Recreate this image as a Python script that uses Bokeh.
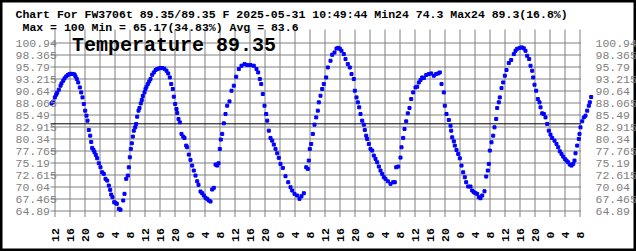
import math
from bokeh.plotting import figure
from bokeh.models import Range1d
from bokeh.core.properties import value
from bokeh.embed import file_html
from bokeh.resources import INLINE

# ---------------- data ----------------
title_line1 = "Chart For FW3706t 89.35/89.35 F 2025-05-31 10:49:44 Min24 74.3 Max24 89.3(16.8%)"
title_line2 = "Max = 100 Min = 65.17(34.83%) Avg = 83.6"
big_title = "Temperature 89.35"
avg_value = 83.6

y_tick_labels = ["64.89", "67.465", "70.04", "72.615", "75.19", "77.765", "80.34", "82.915",
                 "85.49", "88.065", "90.64", "93.215", "95.79", "98.365", "100.94"]

# hours since 2025-05-25 12:00
x_tick_hours = [0, 4, 8, 12, 16, 20, 24, 28, 32, 36, 40, 44, 48, 52, 56, 60, 64, 68,
                72, 76, 80, 84, 88, 92, 96, 100, 104, 108, 112, 116, 120, 124, 128, 132, 136, 140]
x_tick_labels = ["12", "16", "20", "0", "4", "8", "12", "16", "20", "0", "4", "8",
                 "12", "16", "20", "0", "4", "8", "12", "16", "20", "0", "4", "8",
                 "12", "16", "20", "0", "4", "8", "12", "16", "20", "0", "4", "8"]

hours = [
    -0.93, -0.48, -0.05, 0.32, 0.59, 1.01, 1.47, 1.73, 2.19, 2.53, 2.99, 3.41, 3.87, 4.32, 4.75,
    5.20, 5.47, 5.81, 6.19, 6.61, 6.99, 7.33, 7.68, 8.05, 8.40, 8.67, 9.01, 9.39, 9.65, 9.92,
    10.27, 10.53, 10.88, 11.25, 11.68, 12.13, 12.59, 13.01, 13.47, 13.92, 14.35, 14.72, 14.99,
    15.33, 15.79, 16.13, 16.48, 17.01, 17.47, 18.19, 18.53, 18.99, 19.42, 19.68, 19.95, 20.21,
    20.48, 20.75, 21.01, 21.39, 21.65, 21.92, 22.27, 22.53, 22.88, 23.15, 23.41, 23.87, 24.13,
    24.40, 24.75, 25.12, 25.47, 25.92, 26.35, 26.80, 27.25, 27.68, 28.13, 28.67, 29.20, 29.73,
    30.19, 30.61, 30.99, 31.41, 31.68, 32.05, 32.40, 32.59, 32.93, 33.28, 33.73, 34.19, 34.53,
    34.99, 35.25, 35.68, 36.13, 36.59, 37.01, 37.47, 37.92, 38.27, 38.80, 39.25, 39.68, 40.13,
    40.59, 41.01, 41.47, 41.92, 42.35, 42.80, 43.25, 43.60, 43.95, 44.21, 44.59, 45.01, 45.47,
    45.92, 46.53, 47.07, 47.68, 48.32, 49.01, 49.73, 50.53, 51.25, 52.13, 53.01, 53.73, 54.19,
    54.61, 54.99, 55.41, 55.87, 56.32, 56.59, 57.01, 57.47, 57.92, 58.35, 58.80, 59.25, 59.68,
    60.13, 60.75, 61.47, 62.19, 62.80, 63.25, 63.87, 64.59, 65.20, 65.73, 66.35, 66.99, 67.41,
    67.68, 67.95, 68.32, 68.75, 69.20, 69.65, 70.08, 70.35, 70.80, 71.25, 71.68, 72.32, 72.75,
    73.47, 73.92, 74.53, 75.07, 75.52, 75.95, 76.40, 77.01, 77.47, 78.08, 78.61, 79.07, 79.68,
    79.95, 80.40, 80.75, 81.12, 81.47, 81.92, 82.35, 82.61, 82.99, 83.25, 83.68, 84.13, 84.59,
    85.01, 85.47, 85.92, 86.35, 86.80, 87.25, 87.68, 88.13, 88.75, 89.47, 90.19, 90.61, 90.99,
    91.52, 92.13, 92.40, 92.85, 93.20, 93.65, 94.08, 94.53, 94.99, 95.52, 96.13, 96.59, 97.01,
    97.47, 97.92, 98.35, 98.99, 99.68, 100.32, 101.01, 101.65, 102.19, 102.61, 103.07, 103.68,
    103.95, 104.40, 105.01, 105.47, 105.65, 105.92, 106.35, 106.61, 107.07, 107.52, 107.95,
    108.40, 108.85, 109.28, 109.65, 110.19, 110.80, 111.25, 111.68, 112.13, 112.59, 113.01,
    113.47, 113.92, 114.53, 114.99, 115.41, 115.68, 115.95, 116.40, 116.85, 117.20, 117.65,
    117.92, 118.35, 118.61, 119.07, 119.52, 119.95, 120.40, 121.01, 121.65, 122.35, 122.80,
    123.25, 123.95, 124.48, 125.01, 125.47, 125.92, 126.45, 126.80, 127.25, 127.52, 127.87,
    128.32, 128.75, 129.20, 129.47, 129.92, 130.35, 130.80, 131.25, 131.68, 132.13, 132.59,
    133.20, 133.73, 134.19, 134.61, 135.07, 135.52, 135.95, 136.40, 136.85, 137.28, 137.73,
    138.19, 138.53, 138.80, 139.25, 139.68, 139.87, 140.13, 140.59, 141.01, 141.47, 141.92,
    142.35, 142.61, 142.99,
]

temp_f = [
    87.98, 88.35, 89.27, 89.85, 90.27, 90.92, 91.77, 92.27, 92.84, 93.34, 93.77, 94.07, 94.28, 94.34, 94.28,
    94.19, 93.77, 93.21, 92.48, 91.41, 90.34, 89.27, 87.85, 86.42, 85.35, 84.28, 82.28, 81.06, 79.71, 78.43,
    77.99, 77.49, 76.93, 76.20, 75.13, 74.27, 73.20, 72.86, 71.79, 71.42, 70.35, 69.43, 68.42,
    67.85, 66.78, 66.65, 66.43, 65.36, 65.17, 67.14, 68.57, 71.79, 72.50, 74.27, 76.42, 78.21,
    79.41, 80.85, 82.13, 82.84, 83.56, 85.13, 86.42, 86.99, 87.98, 88.71, 89.57, 90.34, 91.07,
    91.56, 92.14, 92.69, 93.21, 94.13, 94.62, 95.14, 95.35, 95.48, 95.56, 95.56, 95.41, 94.99,
    94.41, 93.55, 92.14, 91.07, 89.42, 87.85, 86.78, 85.93, 84.64, 83.91, 81.43, 80.85, 80.57,
    78.92, 78.56, 76.99, 75.86, 74.64, 73.57, 72.49, 71.27, 70.50, 69.07, 68.70, 68.21, 67.72,
    67.50, 67.14, 66.93, 69.50, 69.86, 74.85, 74.64, 75.13, 78.21, 80.21, 81.43, 83.70, 85.71,
    87.49, 88.41, 90.70, 91.77, 93.70, 95.35, 96.06, 96.42, 96.21, 96.21, 96.06, 95.35, 94.62,
    93.21, 92.14, 89.99, 87.49, 85.71, 84.28, 82.13, 80.57, 79.99, 79.14, 78.21, 77.27, 76.29,
    75.00, 74.14, 72.35, 71.06, 69.99, 69.28, 68.57, 68.21, 67.50, 68.06, 68.70, 74.27, 73.93,
    75.71, 78.21, 79.28, 81.43, 83.42, 84.98, 86.42, 88.20, 89.63, 91.07, 92.14, 93.55, 95.69,
    97.13, 98.41, 98.91, 99.75, 99.90, 99.70, 99.27, 98.56, 97.49, 96.42, 95.69, 94.28, 93.21,
    90.70, 89.27, 88.20, 87.13, 85.71, 84.28, 83.42, 82.28, 81.06, 80.36, 79.28, 78.21, 77.85,
    76.78, 76.07, 75.34, 74.42, 73.57, 72.86, 72.13, 71.79, 71.27, 70.72, 71.06, 71.06, 74.27,
    74.42, 76.35, 78.56, 80.57, 82.50, 84.13, 85.84, 86.99, 88.92, 90.34, 91.41, 91.56, 92.48,
    92.99, 93.55, 93.42, 94.06, 94.28, 94.41, 93.92, 94.28, 94.41, 94.62, 92.14, 90.34,
    87.49, 85.71, 84.43, 83.20, 82.13, 80.70, 79.84, 78.92, 77.99, 77.14, 76.20,
    74.64, 73.20, 72.13, 71.06, 70.14, 70.14, 69.28, 68.92, 68.70, 68.57, 67.85,
    67.63, 68.21, 69.13, 72.28, 73.57, 74.99, 77.85, 79.63, 81.06, 82.84, 84.64,
    86.99, 88.20, 89.27, 91.28, 92.48, 93.92, 95.14, 96.64, 97.28, 98.56, 99.27,
    99.70, 99.90, 100.00, 99.80, 99.27, 98.20, 97.49, 96.06, 94.99, 93.55, 91.99,
    90.70, 88.92, 88.20, 87.13, 85.84, 85.71, 84.98, 83.57, 82.13, 81.28, 80.57,
    79.99, 79.28, 78.56, 77.70, 77.14, 76.56, 76.07, 75.71, 75.34, 74.85, 74.64,
    75.00, 75.71, 77.27, 78.92, 80.36, 81.43, 82.84, 84.13, 84.98, 85.35, 86.42,
    87.49, 88.20, 89.35,
]

# ---------------- layout ----------------
W, H = 636, 251
PX_PER_HOUR = 3.75          # 15 px per 4-hour grid step
PX_PER_DEG = 12 / 2.575     # 12 px per y grid step
GRID_X0 = 54.5              # pixel of hour 0
GRID_TOP = 42.5             # pixel of top y tick

y_ticks = [float(s) for s in y_tick_labels]
x_start = -GRID_X0 / PX_PER_HOUR
x_end = x_start + W / PX_PER_HOUR
y_end = y_ticks[-1] + GRID_TOP / PX_PER_DEG
y_start = y_end - H / PX_PER_DEG


def sx(px):
    return x_start + px / PX_PER_HOUR


def sy(py):
    return y_end - py / PX_PER_DEG


MONO = value("Liberation Mono")
GRID_COLOR = "#808080"
LABEL_GRAY = "#808080"

p = figure(width=W, height=H, x_range=Range1d(x_start, x_end), y_range=Range1d(y_start, y_end),
           min_border=0, toolbar_location=None, output_backend="svg",
           x_axis_location=None, y_axis_location=None,
           background_fill_color="white", border_fill_color="white",
           outline_line_color="black", outline_line_width=4)
p.grid.visible = False

n_x = len(x_tick_hours)
n_y = len(y_ticks)

# grid lines
p.segment(x0=x_tick_hours, y0=[sy(29)] * n_x, x1=x_tick_hours, y1=[sy(216.5)] * n_x,
          line_color=GRID_COLOR, line_width=1)
p.segment(x0=[sx(50)] * n_y, y0=y_ticks, x1=[sx(580.5)] * n_y, y1=y_ticks,
          line_color=GRID_COLOR, line_width=1)
# average line
p.segment(x0=[sx(50)], y0=[avg_value], x1=[sx(580.5)], y1=[avg_value],
          line_color="black", line_width=1)

# data
p.scatter(hours, temp_f, marker="square", size=3, fill_color="#0000ff", line_color="#0000ff")

# y tick labels, left & right
p.text(x=[sx(15)] * n_y, y=y_ticks, text=y_tick_labels, text_font=MONO, text_font_size="11.5px",
       text_color=LABEL_GRAY, text_align="left", text_baseline="alphabetic")
p.text(x=[sx(595)] * n_y, y=y_ticks, text=y_tick_labels, text_font=MONO, text_font_size="11.5px",
       text_color=LABEL_GRAY, text_align="left", text_baseline="alphabetic")

# x tick labels (rotated)
p.text(x=x_tick_hours, y=[sy(234.5)] * n_x, text=x_tick_labels, angle=math.pi / 2,
       text_font=MONO, text_font_size="11.5px", text_font_style="bold", text_color="black",
       text_align="center", text_baseline="middle")

# titles
p.text(x=[sx(15)], y=[sy(14)], text=[title_line1], text_font=MONO, text_font_size="11.5px",
       text_font_style="bold", text_color="black", text_align="left", text_baseline="alphabetic")
p.text(x=[sx(22)], y=[sy(26.7)], text=[title_line2], text_font=MONO, text_font_size="11.5px",
       text_font_style="bold", text_color="black", text_align="left", text_baseline="alphabetic")
p.text(x=[sx(71.5)], y=[sy(45)], text=[big_title], text_font=MONO, text_font_size="20px",
       text_font_style="bold", text_color="black", text_align="left", text_baseline="alphabetic")

open("out.html", "w").write(file_html(p, INLINE))
